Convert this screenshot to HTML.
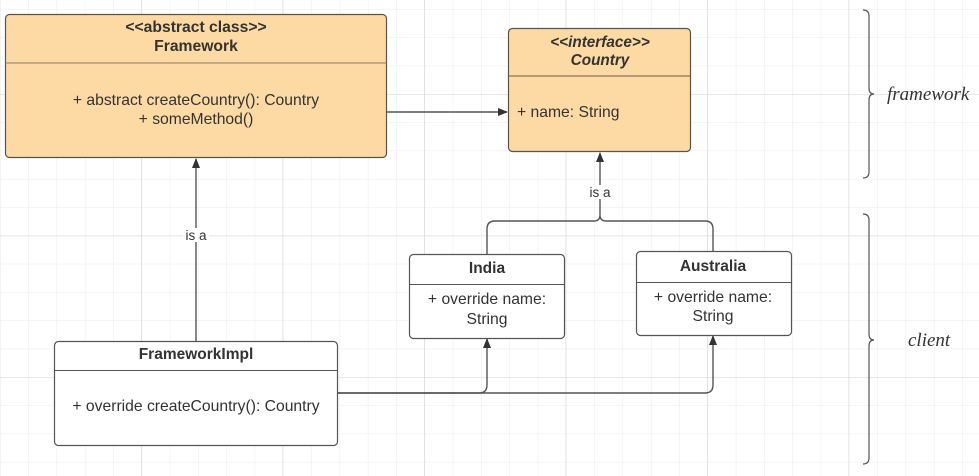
<!DOCTYPE html>
<html><head><meta charset="utf-8"><style>
html,body{margin:0;padding:0;background:#fff}
svg{display:block}
text{font-family:"Liberation Sans",sans-serif;fill:#333}
</style></head><body>
<svg width="979" height="476" viewBox="0 0 979 476" xmlns="http://www.w3.org/2000/svg">
<defs>
<pattern id="g" x="0" y="9.1" width="28.3" height="28.3" patternUnits="userSpaceOnUse">
<path d="M0 0H28.3M0 0V28.3" fill="none" stroke="#ebebeb" stroke-width="1"/>
</pattern>
<pattern id="G" x="-0.5" y="-47.4" width="141.5" height="141.5" patternUnits="userSpaceOnUse">
<path d="M0 0H141.5M0 0V141.5" fill="none" stroke="#dcdcdc" stroke-width="1.2"/>
</pattern>
<marker id="a" markerWidth="10" markerHeight="10" refX="9" refY="5" orient="auto" markerUnits="userSpaceOnUse">
<path d="M0 1L10 5L0 9Z" fill="#333"/>
</marker>
</defs>
<rect width="979" height="476" fill="url(#g)"/>
<rect width="979" height="476" fill="url(#G)"/>

<g fill="none" stroke="#555" stroke-width="1.4">
<path d="M387 112H507" marker-end="url(#a)"/>
<path d="M196 341V159" marker-end="url(#a)"/>
<path d="M600 215V153" marker-end="url(#a)"/>
<path d="M487 254V229Q487 221 495 221H594Q600 221 600 215Q600 221 606 221H705Q713 221 713 229V251"/>
<path d="M337 393H479Q487 393 487 385V339" marker-end="url(#a)"/>
<path d="M337 393H705Q713 393 713 385V336" marker-end="url(#a)"/>
</g>
<rect x="183" y="228" width="26" height="14" fill="#fff"/>
<text x="196" y="240" font-size="13.5" text-anchor="middle" fill="#555">is a</text>
<rect x="587" y="185" width="26" height="14" fill="#fff"/>
<text x="600" y="197" font-size="13.5" text-anchor="middle" fill="#555">is a</text>

<rect x="5.5" y="14.5" width="381" height="143" rx="4" fill="#fdd9a3" stroke="#555" stroke-width="1.2"/>
<line x1="5.5" y1="63" x2="386.5" y2="63" stroke="#8a7a66" stroke-width="1"/>
<text x="196" y="32" font-size="15.7" font-weight="bold" text-anchor="middle" fill="#111">&lt;&lt;abstract class&gt;&gt;</text>
<text x="196" y="51" font-size="15.7" font-weight="bold" text-anchor="middle" fill="#111">Framework</text>
<text x="196" y="105" font-size="15.7" text-anchor="middle">+ abstract createCountry(): Country</text>
<text x="196" y="124" font-size="15.7" text-anchor="middle">+ someMethod()</text>

<rect x="508.5" y="28.5" width="182" height="123" rx="4" fill="#fdd9a3" stroke="#555" stroke-width="1.2"/>
<line x1="508.5" y1="76" x2="690.5" y2="76" stroke="#6a5a46" stroke-width="1"/>
<text x="600" y="47" font-size="15.3" font-weight="bold" font-style="italic" text-anchor="middle">&lt;&lt;interface&gt;&gt;</text>
<text x="600" y="65" font-size="15.3" font-weight="bold" font-style="italic" text-anchor="middle">Country</text>
<text x="517" y="117" font-size="15.7">+ name: String</text>

<rect x="409.5" y="254.5" width="155" height="84" rx="4" fill="#fff" stroke="#555" stroke-width="1.2"/>
<line x1="409.5" y1="284.5" x2="564.5" y2="284.5" stroke="#555" stroke-width="1"/>
<text x="487" y="273" font-size="15.5" font-weight="bold" text-anchor="middle" fill="#111">India</text>
<text x="487" y="304" font-size="15.7" text-anchor="middle">+ override name:</text>
<text x="487" y="324" font-size="15.7" text-anchor="middle">String</text>

<rect x="636.5" y="251.5" width="155" height="84" rx="4" fill="#fff" stroke="#555" stroke-width="1.2"/>
<line x1="636.5" y1="282.5" x2="791.5" y2="282.5" stroke="#555" stroke-width="1"/>
<text x="713" y="271" font-size="15.5" font-weight="bold" text-anchor="middle" fill="#111">Australia</text>
<text x="713" y="302" font-size="15.7" text-anchor="middle">+ override name:</text>
<text x="713" y="321" font-size="15.7" text-anchor="middle">String</text>

<rect x="54.5" y="341.5" width="283" height="104" rx="4" fill="#fff" stroke="#555" stroke-width="1.2"/>
<line x1="54.5" y1="370.5" x2="337.5" y2="370.5" stroke="#555" stroke-width="1"/>
<text x="196" y="359" font-size="15.5" font-weight="bold" text-anchor="middle" fill="#111">FrameworkImpl</text>
<text x="196" y="411" font-size="15.7" text-anchor="middle">+ override createCountry(): Country</text>

<g fill="none" stroke="#555" stroke-width="1.2">
<path d="M863 10Q869 10 869 16V88Q869 94 874 94Q869 94 869 100V172Q869 178 863 178"/>
<path d="M863 214Q869 214 869 220V334Q869 340 874 340Q869 340 869 346V458Q869 464 863 464"/>
</g>
<text x="887" y="100" font-size="19" font-style="italic" style="font-family:'Liberation Serif',serif" fill="#333">framework</text>
<text x="908" y="346" font-size="19" font-style="italic" style="font-family:'Liberation Serif',serif" fill="#333">client</text>
</svg>
</body></html>
